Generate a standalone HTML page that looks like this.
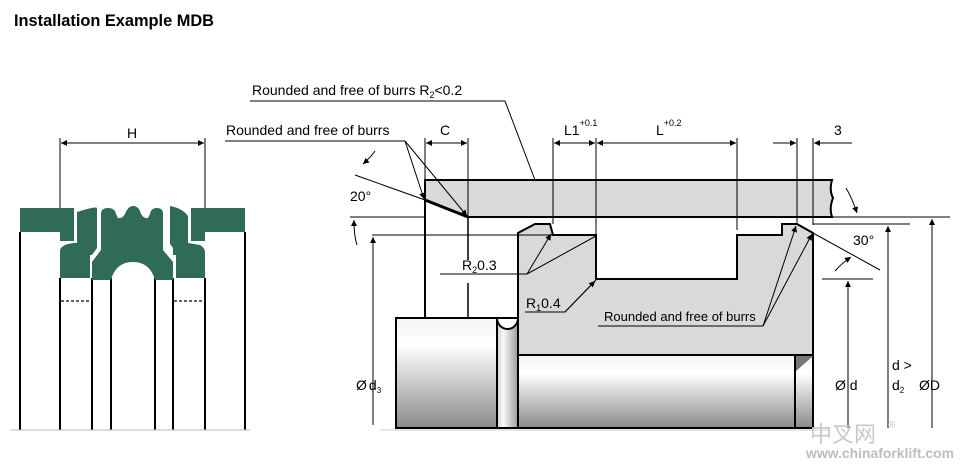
<!DOCTYPE html>
<html><head><meta charset="utf-8"><style>
html,body{margin:0;padding:0;background:#fff;width:980px;height:471px;overflow:hidden}
svg{display:block;font-family:"Liberation Sans",Arial,sans-serif}
</style></head><body>
<svg width="980" height="471" viewBox="0 0 980 471" xmlns="http://www.w3.org/2000/svg">
<defs>
<linearGradient id="cyl" x1="0" y1="0" x2="0" y2="1">
<stop offset="0" stop-color="#f4f4f4"/><stop offset="0.25" stop-color="#ffffff"/><stop offset="0.6" stop-color="#c8c8c8"/><stop offset="1" stop-color="#8a8a8a"/>
</linearGradient>
<linearGradient id="cylv" x1="0" y1="0" x2="1" y2="0">
<stop offset="0" stop-color="#d0d0d0"/><stop offset="0.3" stop-color="#fafafa"/><stop offset="1" stop-color="#9a9a9a"/>
</linearGradient>
<marker id="a" viewBox="0 0 10 10" refX="10" refY="5" markerWidth="9" markerHeight="6" orient="auto-start-reverse" markerUnits="userSpaceOnUse"><path d="M0,0L10,5L0,10z" fill="#000"/></marker>
</defs>
<text x="14" y="26" font-size="17" font-weight="bold" textLength="200" lengthAdjust="spacingAndGlyphs">Installation Example MDB</text>

<!-- LEFT DIAGRAM -->
<g stroke="#000" stroke-width="2" fill="none">
<line x1="20" y1="232" x2="20" y2="430"/>
<line x1="60" y1="278" x2="60" y2="430"/>
<line x1="92" y1="278" x2="92" y2="430"/>
<line x1="111" y1="278" x2="111" y2="430"/>
<line x1="155" y1="278" x2="155" y2="430"/>
<line x1="173" y1="278" x2="173" y2="430"/>
<line x1="205" y1="278" x2="205" y2="430"/>
<line x1="245" y1="232" x2="245" y2="430"/>
</g>
<g stroke="#000" stroke-width="1.2" stroke-dasharray="3,2">
<line x1="61" y1="301" x2="91" y2="301"/><line x1="174" y1="301" x2="204" y2="301"/>
</g>
<line x1="10" y1="430" x2="250" y2="430" stroke="#bbb" stroke-width="1"/>
<g fill="#2f6b55">
<path d="M20,208H74V241H60V232H20Z"/>
<path d="M77,212Q96,206 97,208V248L92,255H90V278H60V250Q62,244 74,243H77Z"/>
<path d="M101,250V214Q101,208 108,208Q115,208 116,214L118,218Q122,219 125,214Q128,206 133,206Q139,206 141,214Q144,219 148,218L150,214Q151,208 157,208Q163,208 163,214V250L173,262V280H155Q150,262 133,262Q116,262 111,280H92V262L101,250Z"/>
<path d="M170,206Q182,208 188,216V243L200,245Q205,248 205,252V278H176V255H173V248L170,244Z"/>
<path d="M191,208H245V232H205V241H191Z"/>
</g>
<line x1="60" y1="138" x2="60" y2="208" stroke="#000" stroke-width="1"/>
<line x1="205" y1="138" x2="205" y2="208" stroke="#000" stroke-width="1"/>
<line x1="61" y1="143" x2="204" y2="143" stroke="#000" stroke-width="1" marker-start="url(#a)" marker-end="url(#a)"/>
<text x="127" y="138" font-size="14">H</text>

<!-- RIGHT DIAGRAM -->
<path d="M425,180H832Q829,190 833,198Q829,208 832,217H468L425,200Z" fill="#d9d9d9" stroke="#000" stroke-width="2"/>
<line x1="425" y1="200" x2="468" y2="217" stroke="#000" stroke-width="3"/>
<path d="M518,355V233L535,224H550L553,235H596V279H737V235H782V224H797L813,233V355Z" fill="#d9d9d9" stroke="#000" stroke-width="2"/>
<rect x="518" y="355" width="295" height="73" fill="url(#cyl)" stroke="#000" stroke-width="2"/>
<path d="M795,356L813,356L795,372Z" fill="#777"/>
<line x1="795" y1="356" x2="795" y2="428" stroke="#000" stroke-width="2"/>
<rect x="396" y="318" width="101" height="110" fill="url(#cyl)" stroke="#000" stroke-width="2"/>
<rect x="497" y="318" width="21" height="110" fill="url(#cylv)" stroke="#000" stroke-width="2"/>
<path d="M497,318A10.5,11 0 0 0 518,318Z" fill="#fff" stroke="#000" stroke-width="2"/>
<line x1="380" y1="430" x2="830" y2="430" stroke="#ccc" stroke-width="1"/>
<line x1="425" y1="180" x2="425" y2="318" stroke="#000" stroke-width="2"/>
<line x1="468" y1="217" x2="468" y2="260" stroke="#000" stroke-width="1.5"/>
<line x1="468" y1="283" x2="468" y2="318" stroke="#000" stroke-width="1.5"/>

<g stroke="#000" stroke-width="1" fill="none">
<line x1="425" y1="138" x2="425" y2="180"/><line x1="468" y1="138" x2="468" y2="217"/>
<line x1="553" y1="138" x2="553" y2="224"/><line x1="596" y1="138" x2="596" y2="235"/>
<line x1="737" y1="138" x2="737" y2="230"/>
<line x1="797" y1="138" x2="797" y2="224"/><line x1="813" y1="138" x2="813" y2="225"/>
<line x1="426" y1="143" x2="467" y2="143" marker-start="url(#a)" marker-end="url(#a)"/>
<line x1="554" y1="143" x2="595" y2="143" marker-start="url(#a)" marker-end="url(#a)"/>
<line x1="597" y1="143" x2="736" y2="143" marker-start="url(#a)" marker-end="url(#a)"/>
<line x1="773" y1="143" x2="796" y2="143" marker-end="url(#a)"/>
<line x1="852" y1="143" x2="814" y2="143" marker-end="url(#a)"/>
<line x1="350" y1="217" x2="425" y2="217"/>
<line x1="832" y1="217" x2="950" y2="217"/>
<line x1="372" y1="235" x2="553" y2="235"/>
<line x1="813" y1="224" x2="910" y2="224"/>
<line x1="822" y1="279" x2="873" y2="279"/>
<line x1="373" y1="425" x2="373" y2="237" marker-end="url(#a)"/>
<line x1="848" y1="428" x2="848" y2="281" marker-end="url(#a)"/>
<line x1="888" y1="428" x2="888" y2="226" marker-end="url(#a)"/>
<line x1="932" y1="428" x2="932" y2="219" marker-end="url(#a)"/>
<polyline points="250,101 505,101 535,180"/>
<polyline points="225,141 405,141"/>
<line x1="405" y1="141" x2="424" y2="199" marker-end="url(#a)"/>
<line x1="405" y1="141" x2="467" y2="216" marker-end="url(#a)"/>
<line x1="355" y1="175" x2="425" y2="200"/>
<path d="M375,151Q370,158 363,164" marker-end="url(#a)"/>
<path d="M357,245Q354,236 354,220" marker-end="url(#a)"/>
<line x1="813" y1="233" x2="880" y2="270"/>
<path d="M846,188Q852,198 857,213" marker-end="url(#a)"/>
<path d="M835,271Q842,263 851,257" marker-end="url(#a)"/>
<polyline points="440,274 527,274"/>
<line x1="527" y1="274" x2="551" y2="234" marker-end="url(#a)"/>
<line x1="527" y1="274" x2="596" y2="236"/>
<polyline points="525,312 565,312 596,280"/>
<line x1="565" y1="312" x2="595" y2="281" marker-end="url(#a)"/>
<polyline points="598,326 763,326"/>
<line x1="763" y1="326" x2="796" y2="226" marker-end="url(#a)"/>
<line x1="763" y1="326" x2="812" y2="234" marker-end="url(#a)"/>
</g>

<g font-size="14" fill="#000">
<text x="252" y="95">Rounded and free of burrs  R<tspan font-size="9" dy="3">2</tspan><tspan dy="-3">&lt;0.2</tspan></text>
<text x="226" y="135">Rounded and free of burrs</text>
<text x="440" y="135">C</text>
<text x="564" y="135">L1<tspan font-size="9" dy="-9">+0.1</tspan></text>
<text x="656" y="135">L<tspan font-size="9" dy="-9">+0.2</tspan></text>
<text x="834" y="135">3</text>
<text x="350" y="201">20°</text>
<text x="853" y="245">30°</text>
<text x="462" y="270">R<tspan font-size="9" dy="3">2</tspan><tspan dy="-3">0.3</tspan></text>
<text x="526" y="308">R<tspan font-size="9" dy="3">1</tspan><tspan dy="-3">0.4</tspan></text>
<text x="604" y="321" font-size="13">Rounded and free of burrs</text>
<text x="356" y="390">Ø<tspan dx="2">d</tspan><tspan font-size="8" dy="3">3</tspan></text>
<text x="835" y="390">Ø d</text>
<text x="892" y="370">d &gt;</text>
<text x="892" y="390">d<tspan font-size="8" dy="3">2</tspan></text>
<text x="919" y="390">ØD</text>
</g>
<text x="810" y="442" font-size="22" fill="#c8c8c8" font-family="'Noto Sans CJK SC',sans-serif">中叉网</text>
<text x="888" y="428" font-size="10" fill="#c8c8c8">®</text>
<text x="806" y="458" font-size="14" fill="#bdbdbd" font-weight="bold" textLength="148" lengthAdjust="spacingAndGlyphs">www.chinaforklift.com</text>
</svg>
</body></html>
